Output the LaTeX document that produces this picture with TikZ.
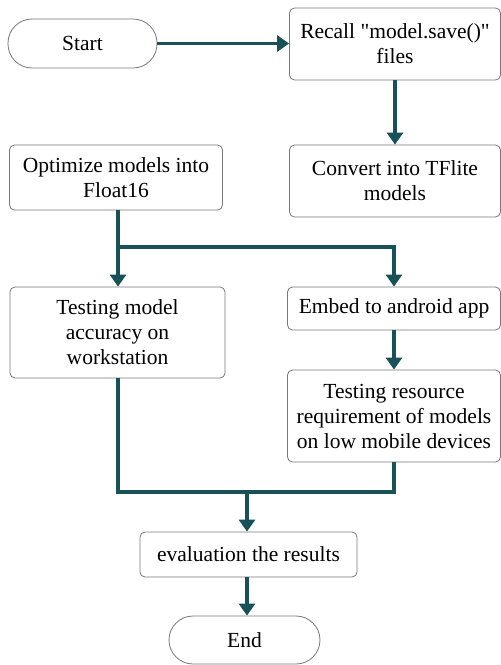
\documentclass[tikz,border=0pt]{standalone}
\usepackage{fontspec}
\setmainfont{Liberation Serif}[Ligatures=TeXOff]
\usetikzlibrary{arrows.meta,calc}
\definecolor{tealline}{RGB}{24,82,88}
\definecolor{boxline}{RGB}{120,120,120}
\begin{document}
\begin{tikzpicture}[x=1pt,y=-1pt,
  box/.style={draw=boxline, line width=0.8pt, rounded corners=5pt, align=center,
    font=\fontsize{21.5}{25}\selectfont, inner sep=0pt},
  term/.style={box, rounded corners=24pt},
  conn/.style={draw=tealline, line width=3.2pt},
  arr/.style={conn, -{Triangle[width=16pt,length=12pt]}}]
\useasboundingbox[fill=white] (0,0) rectangle (501,665);
% nodes
\node[term, minimum width=149pt, minimum height=49pt] (start) at (82.5,43.5) {Start};
\node[box, minimum width=211pt, minimum height=72pt] (recall) at (395,44) {Recall "model.save()"\\files};
\node[box, minimum width=211pt, minimum height=72pt] (conv) at (395,181) {Convert into TFlite\\models};
\node[box, minimum width=213pt, minimum height=65pt] (opt) at (116,177.5) {Optimize models into\\Float16};
\node[box, minimum width=215pt, minimum height=91pt] (tm) at (117.5,332.5) {Testing model\\accuracy on\\workstation};
\node[box, minimum width=213pt, minimum height=43pt] (emb) at (394,308.5) {Embed to android app};
\node[box, minimum width=213pt, minimum height=92pt] (tr) at (394,416) {Testing resource\\requirement of models\\on low mobile devices};
\node[box, minimum width=217pt, minimum height=45pt] (ev) at (248.5,554.5) {evaluation the results};
\node[term, minimum width=151pt, minimum height=48pt] (end) at (244.5,640) {End};
% junctions
\coordinate (split) at (118,247);
\coordinate (merge) at (247,492);
% connectors
\draw[arr] (start.east) -- (recall.west |- start.east);
\draw[arr] (recall.south) -- (conv.north);
\draw[conn] (opt.south -| split) -- (split);
\draw[arr] (split) -- (tm.north -| split);
\draw[arr] (split) -| (emb.north);
\draw[arr] (emb.south) -- (tr.north);
\draw[conn] (tm.south -| split) |- (tr.south |- merge) -- (tr.south);
\draw[arr] (merge) -- (ev.north -| merge);
\draw[arr] (ev.south -| merge) -- (end.north -| merge);
\end{tikzpicture}
\end{document}
